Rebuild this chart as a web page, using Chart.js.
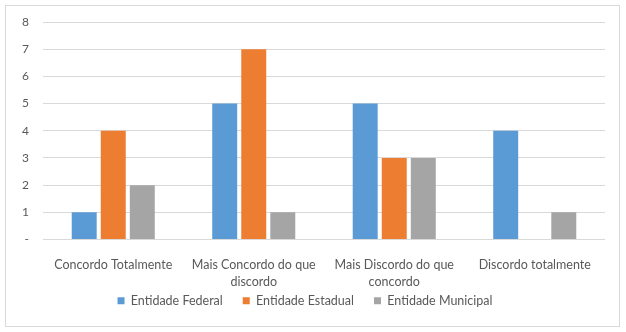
<!DOCTYPE html>
<html><head><meta charset="utf-8">
<script src="https://cdn.jsdelivr.net/npm/chart.js@4/dist/chart.umd.min.js"></script>
<style>
html,body{margin:0;padding:0;background:#fff;}
#wrap{position:absolute;left:0;top:0;width:626px;height:332px;}
#frame{position:absolute;left:5px;top:5px;width:613px;height:320px;border:1px solid #d9d9d9;pointer-events:none;}
</style></head>
<body>
<div id="wrap"><canvas id="c" width="626" height="332"></canvas><div id="frame"></div></div>
<script>
const categories = [
  "Concordo Totalmente",
  ["Mais Concordo do que", "discordo"],
  ["Mais Discordo do que", "concordo"],
  "Discordo totalmente"
];
const seriesNames = ["Entidade Federal", "Entidade Estadual", "Entidade Municipal"];
const federal = [1, 5, 5, 4];
const estadual = [4, 7, 3, 0];
const municipal = [2, 1, 3, 1];
const yTicks = ["-", "1", "2", "3", "4", "5", "6", "7", "8"];
const colors = ["#5B9BD5", "#ED7D31", "#A5A5A5"];

const FONT = "Lato, 'Open Sans', sans-serif";
const extendXLabels = {
  id: 'extendXLabels',
  afterLayout(chart) { chart.scales.x.bottom = chart.height; }
};
new Chart(document.getElementById('c'), {
  type: 'bar',
  data: {
    labels: categories,
    datasets: [federal, estadual, municipal].map((d, i) => ({
      label: seriesNames[i],
      data: d,
      backgroundColor: colors[i],
      borderWidth: 0,
      barPercentage: 0.86,
      categoryPercentage: 0.62
    }))
  },
  plugins: [extendXLabels],
  options: {
    responsive: false,
    animation: false,
    layout: { padding: { left: 5, right: 21, top: 22, bottom: 15 } },
    plugins: {
      tooltip: { enabled: false },
      legend: {
        position: 'bottom',
        labels: {
          boxWidth: 7, boxHeight: 7, padding: 20,
          color: '#595959',
          font: { family: FONT, size: 12.5 }
        }
      }
    },
    scales: {
      x: {
        grid: { display: false, drawTicks: false },
        border: { display: false },
        ticks: { color: '#595959', padding: 17, maxRotation: 0, autoSkip: false, font: { family: FONT, size: 12.5, lineHeight: 1.36 } },
        afterFit: s => { s.height = 35; }
      },
      y: {
        min: 0, max: 8,
        grid: { color: '#d9d9d9', drawTicks: false },
        border: { display: false },
        ticks: {
          stepSize: 1, color: '#595959', padding: 14,
          font: { family: FONT, size: 12 },
          callback: (v) => yTicks[v]
        },
        afterFit: s => { s.width = 38; }
      }
    }
  }
});
</script>
</body></html>
